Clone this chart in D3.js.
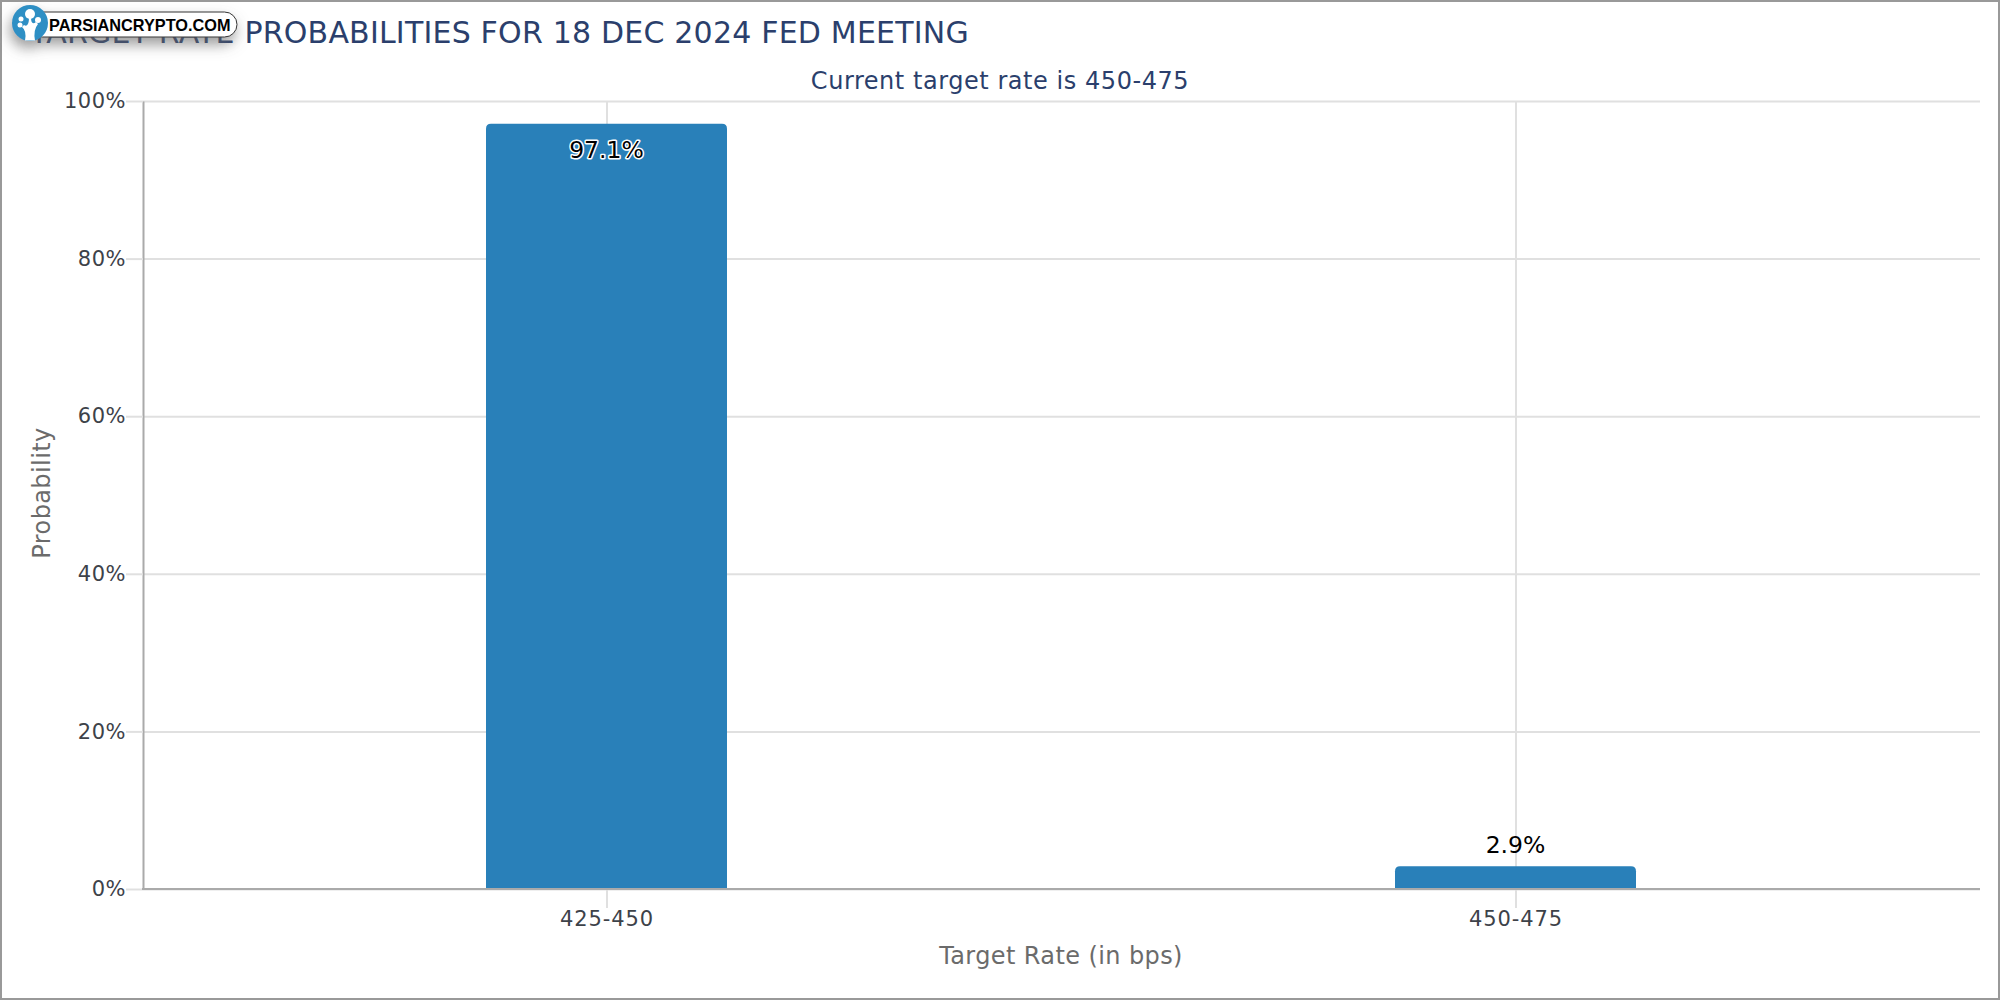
<!DOCTYPE html>
<html>
<head>
<meta charset="utf-8">
<script src="https://cdnjs.cloudflare.com/ajax/libs/d3/7.8.5/d3.min.js"></script>
<style>
  html, body { margin: 0; padding: 0; background: #fff; }
  svg { display: block; }
  text { font-family: "DejaVu Sans", sans-serif; }
</style>
</head>
<body>
<script>
const categories = ["425-450", "450-475"];
const probabilities = [97.1, 2.9];
const barLabels = ["97.1%", "2.9%"];
const yTicks = [0, 20, 40, 60, 80, 100];

const titleText = "TARGET RATE PROBABILITIES FOR 18 DEC 2024 FED MEETING";
const subtitleText = "Current target rate is 450-475";
const xTitle = "Target Rate (in bps)";
const yTitle = "Probability";
const logoText = "PARSIANCRYPTO.COM";

const width = 2000, height = 1000;
const plot = {left: 143, right: 1980, top: 101, bottom: 889};
const barWidth = 241;
const navy = "#2b3f6c", grid = "#e0e0e0", axisGrey = "#aaaaaa", labelGrey = "#3d4249", titleGrey = "#6b6b6b";

let svg = d3.select("body").append("svg")
  .attr("width", width)
  .attr("height", height);

let defs = svg.append("defs");
let shadow = defs.append("filter").attr("id", "logoShadow")
  .attr("x", "-20%").attr("y", "-60%").attr("width", "140%").attr("height", "260%");
shadow.append("feDropShadow")
  .attr("dx", -2).attr("dy", 7).attr("stdDeviation", 7)
  .attr("flood-color", "#666").attr("flood-opacity", 0.65);

svg.append("rect")
  .attr("x", 1).attr("y", 1)
  .attr("width", width - 2).attr("height", height - 2)
  .attr("fill", "#fff")
  .attr("stroke", "#999").attr("stroke-width", 2);

let x = d3.scalePoint().domain(categories).range([606.5, 1515.5]);
let y = d3.scaleLinear().domain([0, 100]).range([plot.bottom, plot.top]);

// grid lines first, bars sit on top of them
svg.append("g")
  .attr("transform", "translate(" + plot.left + ",0)")
  .call(d3.axisLeft(y).tickValues(yTicks).tickSize(-(plot.right - plot.left)).tickFormat(""))
  .call(g => g.select(".domain").remove())
  .call(g => g.selectAll("line").attr("stroke", grid).attr("stroke-width", 2));

svg.append("g")
  .attr("transform", "translate(0," + plot.bottom + ")")
  .call(d3.axisBottom(x).tickSize(-(plot.bottom - plot.top)).tickFormat(""))
  .call(g => g.select(".domain").remove())
  .call(g => g.selectAll("line").attr("stroke", grid).attr("stroke-width", 2));

// rounded at the top only
function barPath(d, i) {
  let cx = x(categories[i]), r = 5;
  let x0 = cx - barWidth / 2, x1 = cx + barWidth / 2, top = y(d), base = y(0);
  return "M" + x0 + "," + base + "V" + (top + r) + "Q" + x0 + "," + top + " " + (x0 + r) + "," + top +
    "H" + (x1 - r) + "Q" + x1 + "," + top + " " + x1 + "," + (top + r) + "V" + base + "Z";
}

svg.append("g").selectAll("path")
  .data(probabilities)
  .join("path")
  .attr("d", barPath)
  .attr("fill", "#2980b9");

// y axis labels and ticks
svg.append("g")
  .attr("transform", "translate(" + plot.left + ",0)")
  .call(d3.axisLeft(y).tickValues(yTicks).tickSizeInner(17).tickSizeOuter(0).tickPadding(0).tickFormat(d => d + "%"))
  .call(g => g.select(".domain").attr("stroke", axisGrey).attr("stroke-width", 2))
  .call(g => g.selectAll("line").attr("stroke", grid).attr("stroke-width", 2))
  .call(g => g.selectAll("text").attr("fill", labelGrey).style("font-size", "21px").style("letter-spacing", "0.5px"));

// x axis labels and ticks
svg.append("g")
  .attr("transform", "translate(0," + plot.bottom + ")")
  .call(d3.axisBottom(x).tickSizeInner(19).tickSizeOuter(0).tickPadding(3))
  .call(g => g.select(".domain").remove())
  .call(g => g.selectAll("line").attr("stroke", grid).attr("stroke-width", 2))
  .call(g => g.selectAll("text").attr("fill", labelGrey).style("font-size", "21px").style("letter-spacing", "0.9px"));

svg.append("line")
  .attr("x1", plot.left - 1).attr("x2", plot.right)
  .attr("y1", plot.bottom).attr("y2", plot.bottom)
  .attr("stroke", axisGrey).attr("stroke-width", 2);

// value labels: inside the tall bar, above the short one
svg.append("g").selectAll("text")
  .data(probabilities)
  .join("text")
  .attr("x", (d, i) => x(categories[i]))
  .attr("y", (d, i) => d > 50 ? y(d) + 26 : y(d) - 21)
  .attr("dy", "0.35em")
  .attr("text-anchor", "middle")
  .attr("fill", "#000")
  .attr("stroke", (d, i) => d > 50 ? "#fff" : "none")
  .attr("stroke-width", 3)
  .attr("paint-order", "stroke")
  .attr("stroke-linejoin", "round")
  .style("font-size", "23.5px")
  .text((d, i) => barLabels[i]);

svg.append("text")
  .attr("x", 30).attr("y", 43)
  .attr("fill", navy)
  .style("font-size", "30px")
  .style("letter-spacing", "0.2px")
  .text(titleText);

svg.append("text")
  .attr("x", 1000).attr("y", 89)
  .attr("text-anchor", "middle")
  .attr("fill", navy)
  .style("font-size", "24px")
  .style("letter-spacing", "0.55px")
  .text(subtitleText);

svg.append("text")
  .attr("x", 1061).attr("y", 964)
  .attr("text-anchor", "middle")
  .attr("fill", titleGrey)
  .style("font-size", "24px")
  .style("letter-spacing", "0.4px")
  .text(xTitle);

svg.append("text")
  .attr("transform", "translate(50,493) rotate(-90)")
  .attr("text-anchor", "middle")
  .attr("fill", titleGrey)
  .style("font-size", "24px")
  .style("letter-spacing", "0.4px")
  .text(yTitle);

// logo badge over the start of the title
let logo = svg.append("g");
let badge = logo.append("g").attr("filter", "url(#logoShadow)");
badge.append("rect")
  .attr("x", 30).attr("y", 12)
  .attr("width", 207).attr("height", 25)
  .attr("rx", 12.5)
  .attr("fill", "#fff").attr("stroke", "#333").attr("stroke-width", 1);
badge.append("circle")
  .attr("cx", 30).attr("cy", 23).attr("r", 18)
  .attr("fill", "#2f8fc4");
logo.append("path")
  .attr("d", "M25,40.5 Q27,31 22,27 L24,25 Q29,28 29,17 L31,17 Q31,26 36,22 L38,24 Q33,30 35,40.5 Z")
  .attr("fill", "#fff");
logo.selectAll("circle.dot")
  .data([[30, 14, 5], [21, 19, 2.5], [38, 20, 3], [20, 25, 2.5]])
  .join("circle")
  .attr("class", "dot")
  .attr("cx", d => d[0]).attr("cy", d => d[1]).attr("r", d => d[2])
  .attr("fill", "#fff");
logo.append("text")
  .attr("x", 49).attr("y", 31)
  .attr("fill", "#000")
  .style("font-family", "'Liberation Sans', sans-serif")
  .style("font-weight", "bold")
  .style("font-size", "16.3px")
  .text(logoText);
</script>
</body>
</html>
